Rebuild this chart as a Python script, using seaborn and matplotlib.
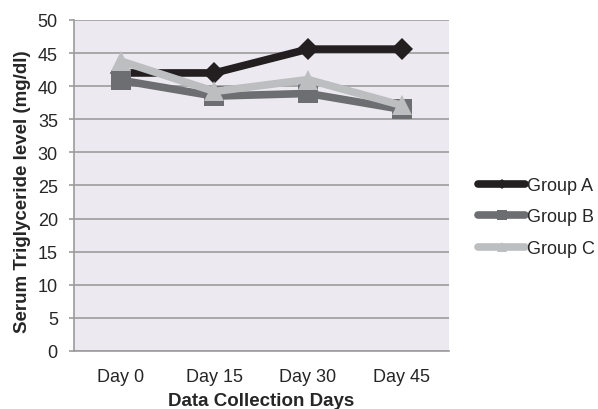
import matplotlib
matplotlib.use("Agg")
import matplotlib.pyplot as plt
import seaborn as sns
import pandas as pd

days = ["Day 0", "Day 15", "Day 30", "Day 45"]
group_a = [42.0, 42.0, 45.6, 45.6]
group_b = [40.9, 38.5, 38.9, 36.5]
group_c = [43.8, 39.2, 41.0, 37.1]
groups = ["Group A", "Group B", "Group C"]
yticks = list(range(0, 51, 5))

df = pd.DataFrame({
    "day": days * 3,
    "level": group_a + group_b + group_c,
    "group": [g for g in groups for _ in days],
})

sns.set_theme(style="white")
plt.rcParams["font.family"] = ["Liberation Sans", "DejaVu Sans"]

fig = plt.figure(figsize=(5.98, 4.10), dpi=100)
ax = fig.add_axes([0.1237, 0.1415, 0.6263, 0.8073])
ax.set_facecolor("#ECEAF0")

palette = {"Group A": "#231F20", "Group B": "#6D6E71", "Group C": "#BCBEC0"}
markers = {"Group A": "D", "Group B": "s", "Group C": "^"}
sizes = {"Group A": 11, "Group B": 15, "Group C": 15}

for g in groups:
    sub = df[df["group"] == g]
    sns.lineplot(data=sub, x="day", y="level", ax=ax, color=palette[g],
                 marker=markers[g], markersize=sizes[g], linewidth=5.5,
                 markeredgewidth=0, label=g, sort=False)

ax.set_xlim(-0.5, 3.5)
ax.set_ylim(0, 50)
ax.set_yticks(yticks)
ax.yaxis.grid(True, color="#9C9C9C", linewidth=1.2)
ax.set_axisbelow(True)
for s in ["top", "right"]:
    ax.spines[s].set_visible(False)
for s in ["left", "bottom"]:
    ax.spines[s].set_color("#9C9C9C")
    ax.spines[s].set_linewidth(1.2)
ax.tick_params(axis="y", which="major", left=True, length=3.6, color="#9C9C9C",
               width=1.2, labelsize=13, pad=8)
ax.tick_params(axis="x", bottom=False, length=0, labelsize=13, pad=12)

ax.set_xlabel("Data Collection Days", fontsize=13.5, fontweight="bold", labelpad=5)
ax.set_ylabel("Serum Triglyceride level (mg/dl)", fontsize=13.5, fontweight="bold")
ax.yaxis.set_label_coords(-0.115, 0.483)

leg = ax.legend(loc="center left", bbox_to_anchor=(1.080, 0.405), frameon=False,
                fontsize=13, handlelength=2.6, handletextpad=0.1,
                labelspacing=0.8, markerscale=0.5, borderpad=0, borderaxespad=0)

fig.savefig("out.png", dpi=100, facecolor="white")
